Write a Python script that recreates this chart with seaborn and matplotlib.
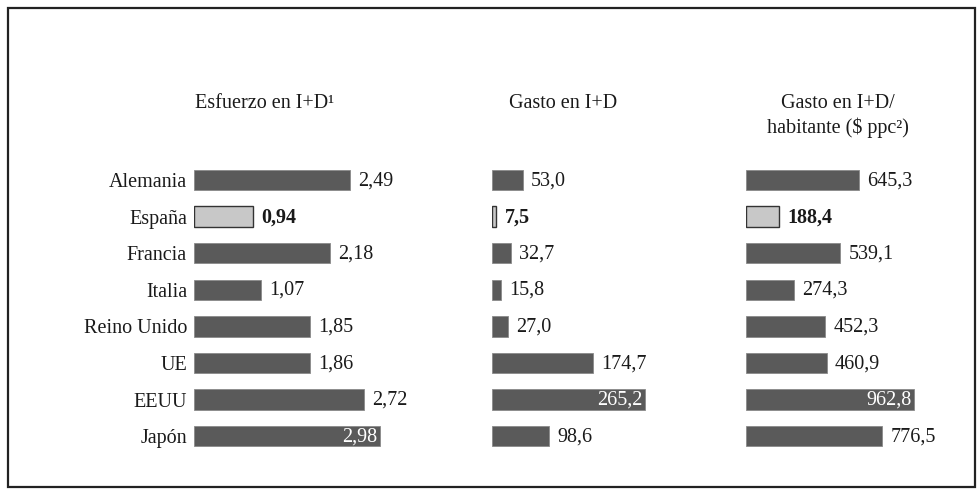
import matplotlib
matplotlib.use("Agg")
import matplotlib.pyplot as plt
import seaborn as sns
import pandas as pd
from matplotlib.patches import Rectangle

countries = ["Alemania", "España", "Francia", "Italia", "Reino Unido", "UE", "EEUU", "Japón"]
esfuerzo = [2.49, 0.94, 2.18, 1.07, 1.85, 1.86, 2.72, 2.98]
gasto = [53.0, 7.5, 32.7, 15.8, 27.0, 174.7, 265.2, 98.6]
gasto_hab = [645.3, 188.4, 539.1, 274.3, 452.3, 460.9, 962.8, 776.5]
titles = ["Esfuerzo en I+D¹", "Gasto en I+D", "Gasto en I+D/\nhabitante ($ ppc²)"]
decimals = [2, 1, 1]
highlight = "España"

sns.set_theme(style="white")
plt.rcParams['font.family'] = ['Liberation Serif', 'DejaVu Serif']

W, H = 980, 495
fig = plt.figure(figsize=(W / 100, H / 100), dpi=100)

# frame
fig.patches.append(Rectangle((8 / W, 8 / H), (975 - 8) / W, (487 - 8) / H,
                             transform=fig.transFigure, fill=False,
                             edgecolor="#222222", linewidth=1.6))

FS = 14.5
row_top, row_step = 180, 36.6
ax_top = row_top - row_step / 2
ax_h = row_step * 8
panels = [
    dict(left=194, xmax=4.0, scale=62.5, title_x=265),
    dict(left=492, xmax=400.0, scale=0.578, title_x=563),
    dict(left=746, xmax=1200.0, scale=0.175, title_x=838),
]
dark = "#5a5a5a"
light = "#c8c8c8"
series = [esfuerzo, gasto, gasto_hab]

for i, (p, vals) in enumerate(zip(panels, series)):
    width_px = p["xmax"] * p["scale"]
    ax = fig.add_axes([p["left"] / W, (H - ax_top - ax_h) / H, width_px / W, ax_h / H])
    df = pd.DataFrame({"country": countries, "value": vals})
    pal = {c: (light if c == highlight else dark) for c in countries}
    sns.barplot(data=df, x="value", y="country", hue="country", palette=pal,
                legend=False, ax=ax, width=0.56, saturation=1, orient="h")
    for bar, c in zip(ax.patches, countries):
        if c == highlight:
            bar.set_edgecolor("#333333")
            bar.set_linewidth(1.0)
        else:
            bar.set_edgecolor("#8a8a8a")
            bar.set_linewidth(0.6)
    ax.set_xlim(0, p["xmax"])
    ax.set_ylim(7.5, -0.5)
    vmax = max(vals)
    for j, (c, v) in enumerate(zip(countries, vals)):
        txt = f"{v:.{decimals[i]}f}".replace(".", ",")
        bold = c == highlight
        if v == vmax:
            ax.annotate(txt, (v, j), xytext=(-2, -0.5), textcoords="offset points",
                        ha="right", va="center", color="white", fontsize=FS)
        else:
            ax.annotate(txt, (v, j), xytext=(6, -0.5), textcoords="offset points",
                        ha="left", va="center", color="#1a1a1a", fontsize=FS,
                        fontweight="bold" if bold else "normal")
    for s in ax.spines.values():
        s.set_visible(False)
    ax.set_xlabel("")
    ax.set_ylabel("")
    ax.set_xticks([])
    if i == 0:
        ax.tick_params(axis="y", length=0, pad=5, labelsize=FS, labelcolor="#1a1a1a")
    else:
        ax.set_yticks([])
    fig.text(p["title_x"] / W, 1 - 94 / H, titles[i], ha="center", va="top",
             fontsize=FS, color="#1a1a1a", linespacing=1.3)

fig.savefig("out.png", dpi=100)
